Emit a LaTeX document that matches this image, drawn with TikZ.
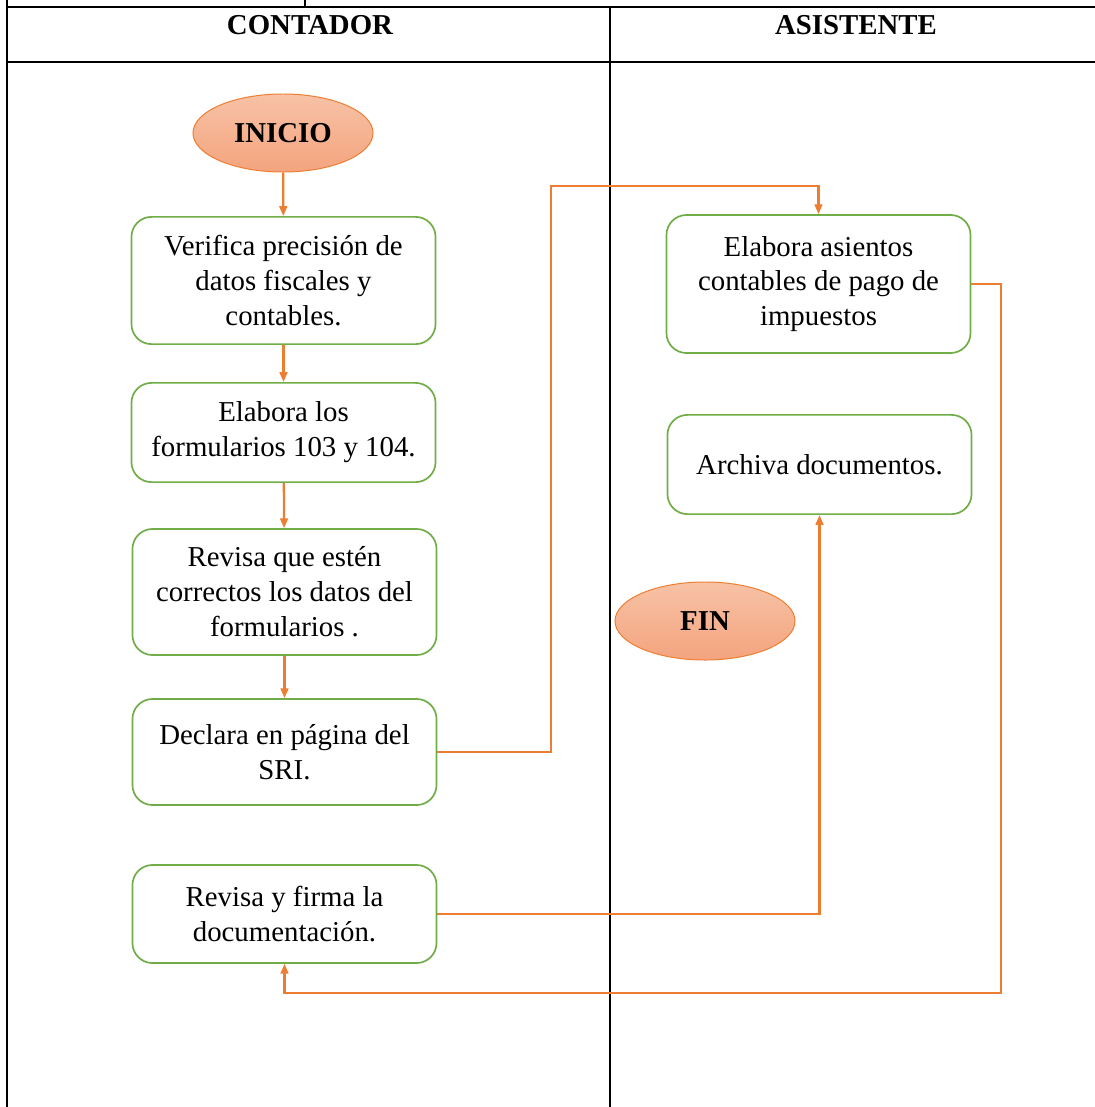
\documentclass[tikz,border=0pt]{standalone}
\usepackage{fontspec}
\setmainfont{Liberation Serif}
\usetikzlibrary{shapes.geometric, arrows.meta, positioning, calc}
\definecolor{floworange}{HTML}{ED7D31}
\definecolor{flowgreen}{HTML}{70AD47}
\definecolor{salmontop}{HTML}{F7C2A6}
\definecolor{salmonbot}{HTML}{F4A47E}

\begin{document}
\begin{tikzpicture}[x=0.025cm, y=-0.025cm, >={Triangle[length=7pt, width=5.5pt]}, font=\fontsize{20.5}{24.8}\selectfont]
\tikzset{
    lane/.style={line width=1.3pt, black},
    header/.style={font=\fontsize{20.5}{24.8}\selectfont\bfseries, anchor=center},
    stepbox/.style={draw=flowgreen, line width=1.2pt, rectangle, rounded corners=0.5cm, fill=white, minimum width=7.6cm, align=center, inner sep=2pt},
    terminal/.style={draw=floworange, line width=0.7pt, ellipse, minimum width=4.5cm, minimum height=1.95cm, top color=salmontop, bottom color=salmonbot, font=\fontsize{20.5}{24.8}\selectfont\bfseries},
    flow/.style={->, draw=floworange, line width=1.6pt}
}
\useasboundingbox (0,0) rectangle (1095,1107);
% swimlane table
\draw[lane] (7,0) -- (7,1107);
\draw[lane] (305,0) -- (305,7);
\draw[lane] (7,7) -- (1095,7);
\draw[lane] (7,62) -- (1095,62);
\draw[lane] (610,7) -- (610,1107);
\node[header] (Cont) at (310,25) {CONTADOR};
\node[header] (Asis) at (856,25) {ASISTENTE};
% contador
\node[terminal] (Inicio) at (283,133) {INICIO};
\node[stepbox, minimum height=3.18cm] (Verifica) at (283.5,280.5) {Verifica precisión de\\datos fiscales y\\contables.};
\node[stepbox, minimum height=2.48cm] (Elabora) at (283.5,432.5) {Elabora los\\formularios 103 y 104.};
\node[stepbox, minimum height=3.15cm] (Revisa) at (284.5,592) {Revisa que estén\\correctos los datos del\\formularios .};
\node[stepbox, minimum height=2.65cm] (Declara) at (284.5,752) {Declara en página del\\SRI.};
\node[stepbox, minimum height=2.45cm] (Firma) at (284.5,914) {Revisa y firma la\\documentación.};
% asistente
\node[stepbox, minimum height=3.45cm] (Asientos) at (818.5,284) {Elabora asientos\\contables de pago de\\impuestos};
\node[stepbox, minimum height=2.48cm] (Archiva) at (819.5,464.5) {Archiva documentos.};
\node[terminal] (Fin) at (705,621) {FIN};
% connectors
\coordinate (TurnA) at (551,186);
\coordinate (TurnB) at (1001,993);
\draw[flow] (Inicio) -- (Verifica);
\draw[flow] (Verifica) -- (Elabora);
\draw[flow] (Elabora) -- (Revisa);
\draw[flow] (Revisa) -- (Declara);
\draw[flow] (Declara.east) -| (TurnA) -| (Asientos.north);
\draw[flow] (Asientos.east) -| (TurnB) -| (Firma.south);
\draw[flow] (Firma.east) -| (Archiva.south);
\end{tikzpicture}
\end{document}
